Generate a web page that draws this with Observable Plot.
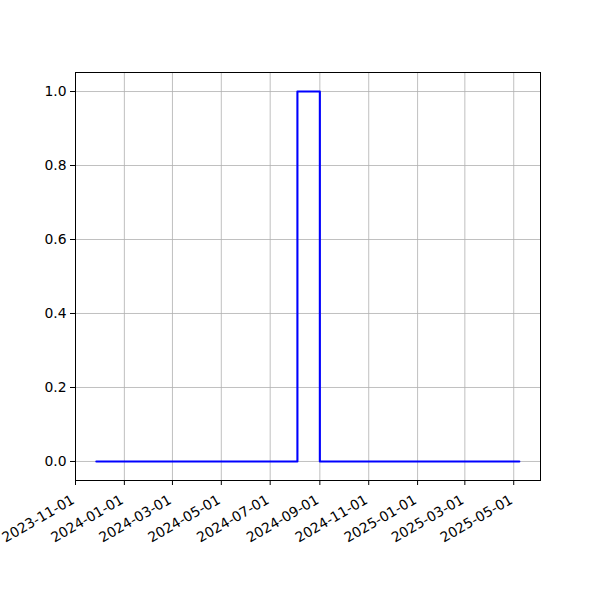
<!DOCTYPE html>
<html>
<head>
<meta charset="utf-8">
<script src="https://cdn.jsdelivr.net/npm/d3@7"></script>
<script src="https://cdn.jsdelivr.net/npm/@observablehq/plot@0.6"></script>
<style>
  html, body { margin: 0; padding: 0; background: #ffffff; }
  svg { display: block; }
</style>
</head>
<body>
<div id="chart"></div>
<script>
// Step series (value holds until the next date)
const dates = ["2023-11-27", "2024-08-04", "2024-09-01", "2025-05-08"];
const values = [0, 1, 0, 0];

// Axis ticks
const xTickLabels = ["2023-11-01", "2024-01-01", "2024-03-01", "2024-05-01", "2024-07-01",
                     "2024-09-01", "2024-11-01", "2025-01-01", "2025-03-01", "2025-05-01"];
const yTicks = [0.0, 0.2, 0.4, 0.6, 0.8, 1.0];

const data = dates.map((d, i) => ({date: new Date(d + "T00:00:00Z"), value: values[i]}));
const xTicks = xTickLabels.map(d => new Date(d + "T00:00:00Z"));

const chart = Plot.plot({
  width: 600,
  height: 600,
  marginLeft: 75,
  marginRight: 60,
  marginTop: 72,
  marginBottom: 120,
  style: {fontFamily: "'DejaVu Sans', sans-serif", fontSize: "13.9px", background: "#ffffff", color: "#000"},
  x: {type: "utc", domain: [new Date("2023-11-01T00:00:00Z"), new Date("2025-06-03T10:00:00Z")]},
  y: {domain: [-0.0514, 1.0514]},
  marks: [
    Plot.gridX(xTicks, {stroke: "#b0b0b0", strokeOpacity: 1, strokeWidth: 0.8}),
    Plot.gridY(yTicks, {stroke: "#b0b0b0", strokeOpacity: 1, strokeWidth: 0.8}),
    Plot.lineY(data, {x: "date", y: "value", curve: "step-after", stroke: "#0000ff", strokeWidth: 2.1}),
    Plot.axisY({ticks: yTicks, tickFormat: d3.format(".1f"), tickSize: 5, tickPadding: 4, label: null, fontSize: 13.9}),
    Plot.axisX({ticks: xTicks, tickSize: 5, tickFormat: () => "", label: null}),
    Plot.text(xTicks, {
      x: d => d, frameAnchor: "bottom", text: d => d3.utcFormat("%Y-%m-%d")(d),
      rotate: -30, textAnchor: "end", lineAnchor: "bottom", dy: 22, fontSize: 13.9, fill: "#000"
    }),
    Plot.frame({stroke: "#000", strokeWidth: 1})
  ]
});
document.getElementById("chart").appendChild(chart);
</script>
</body>
</html>
